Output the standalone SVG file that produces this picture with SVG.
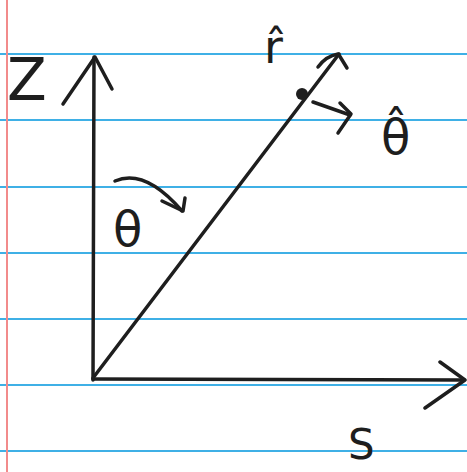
<svg xmlns="http://www.w3.org/2000/svg" width="467" height="472" viewBox="0 0 467 472">
<style>
.rule{stroke:#3fb0e6;stroke-width:2;}
.ink{stroke:#1e1e1e;stroke-width:3.5;fill:none;stroke-linecap:round;stroke-linejoin:round;}
.lbl{font-family:"DejaVu Sans","Liberation Sans",sans-serif;fill:#1e1e1e;}
</style>
<rect width="467" height="472" fill="#ffffff"/>
<g id="paper">
<line class="rule" x1="0" y1="54" x2="467" y2="54"/>
<line class="rule" x1="0" y1="120" x2="467" y2="120"/>
<line class="rule" x1="0" y1="187" x2="467" y2="187"/>
<line class="rule" x1="0" y1="253" x2="467" y2="253"/>
<line class="rule" x1="0" y1="319" x2="467" y2="319"/>
<line class="rule" x1="0" y1="385" x2="467" y2="385"/>
<line class="rule" x1="0" y1="451" x2="467" y2="451"/>
<line x1="7" y1="0" x2="7" y2="472" stroke="#f28b8b" stroke-width="2"/>
</g>
<g id="connectors">
<line class="ink" x1="93" y1="380" x2="94" y2="57"/>
<polyline class="ink" points="63,104 95,57 112,89"/>
<line class="ink" x1="93" y1="379" x2="463" y2="380"/>
<polyline class="ink" points="440,362 465,380 425,408"/>
<line class="ink" x1="93" y1="378" x2="339" y2="54"/>
<path class="ink" d="M318,67 Q326,56 338,54 M339,55 L347,68"/>
<circle cx="302" cy="94" r="6" fill="#1e1e1e"/>
<line class="ink" x1="313" y1="102" x2="350" y2="115"/>
<polyline class="ink" points="340,103 351,114 338,133"/>
<path class="ink" d="M115,181 Q145,168 182,211"/>
<polyline class="ink" points="162,201 183,211 185,198"/>
</g>
<g id="labels">
<text class="lbl" x="7" y="100" font-size="58">Z</text>
<text class="lbl" x="264" y="63" font-size="46">r̂</text>
<text class="lbl" x="381" y="154" font-size="48">θ̂</text>
<text class="lbl" x="113" y="246" font-size="48">θ</text>
<text class="lbl" x="348" y="459" font-size="42">S</text>
</g>
</svg>
